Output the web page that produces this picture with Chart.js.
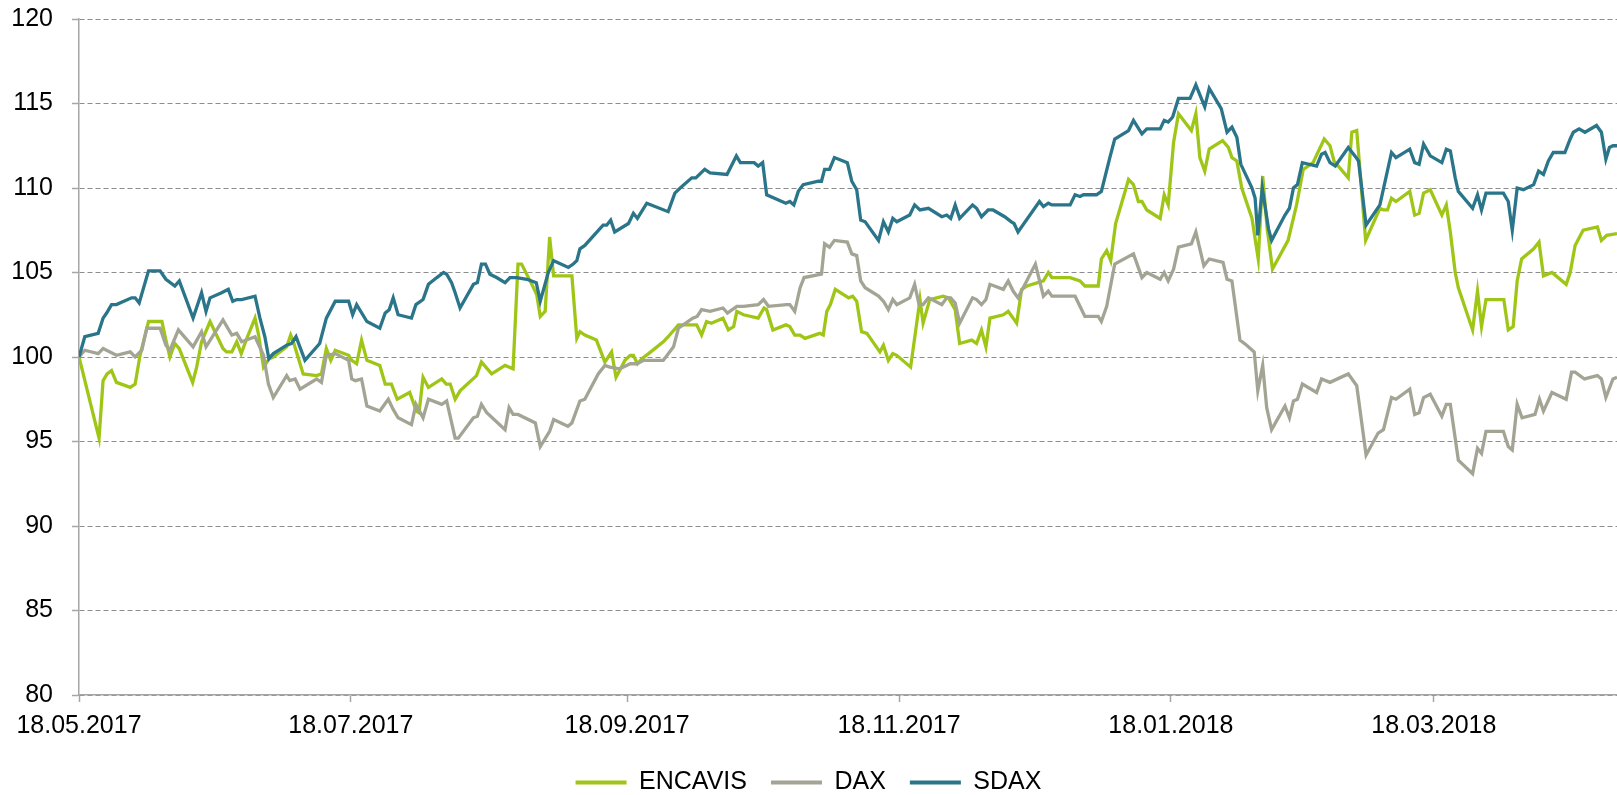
<!DOCTYPE html>
<html>
<head>
<meta charset="utf-8">
<script src="https://cdn.jsdelivr.net/npm/chart.js@4"></script>
<style>
  body { margin: 0; background: #fff; }
  .wrap { position: relative; width: 1617px; height: 795px; }
</style>
</head>
<body>
<div class="wrap"><canvas id="myChart"></canvas></div>
<script>
// x values are days counted from 18.05.2017 (index = 100 on that day)
var tickDays = [0, 61, 123, 184, 245, 304];

var encavisDays = [0,4.5,5.4,6.3,7.3,8.4,11.5,12.6,13.7,15.6,18.6,19.5,20.4,21.5,22.5,25.5,26.4,27.5,29.4,32.3,33.1,34.3,35.4,36.4,37.5,39.5,40.3,41.4,42.7,43.6,46.6,47.5,48.1,49.6,50.3,53.3,54.4,55.5,56.5,57.5,60.5,61.2,62.3,63.4,64.6,67.5,68.7,70.1,71.4,74.2,75.7,76.3,77.2,78.4,81.4,82.4,83.3,84.4,85.5,89.2,90.3,92.6,95.6,97.4,98.5,99.3,101.6,102.7,103.5,104.6,105.6,106.5,110.6,111.7,112.4,113.5,116.1,118.0,119.5,120.5,122.5,123.7,124.4,125.3,126.3,127.8,131.1,132.2,134.5,138.6,139.7,140.8,141.9,144.5,145.7,146.9,147.6,149.1,152.4,153.7,154.3,155.7,158.6,159.5,160.6,161.8,162.9,166.2,167.0,167.8,168.6,169.7,172.7,173.6,174.5,175.6,176.8,179.7,180.5,181.6,182.6,183.5,186.6,188.7,189.4,190.9,193.9,195.1,196.6,197.6,200.3,201.4,202.5,203.5,204.4,207.4,208.5,209.6,210.4,211.5,212.7,216.4,217.5,218.3,222.4,224.6,225.7,228.7,229.4,230.6,231.5,232.6,235.5,236.6,237.7,238.5,239.6,242.6,243.5,244.4,245.6,246.7,249.6,250.6,251.5,252.6,253.6,256.6,257.9,258.7,259.8,260.9,263.2,264.6,265.6,266.6,267.8,271.3,273.2,274.7,276.9,279.4,280.7,281.6,284.8,285.6,286.7,288.7,291.9,292.7,293.6,294.5,295.5,298.6,299.7,300.7,301.7,303.2,305.8,306.8,307.7,308.8,309.5,312.7,313.8,314.7,315.7,319.7,320.7,321.8,322.7,323.7,326.4,327.6,328.6,330.5,333.7,334.6,335.7,337.5,340.7,341.6,342.8,345.1];
var encavisValues = [100,95.2,98.6,99.0,99.2,98.5,98.2,98.4,100.1,102.1,102.1,101.0,100.0,100.8,100.5,98.5,99.4,100.9,102.1,100.5,100.3,100.3,100.9,100.2,101.0,102.3,101.3,99.4,99.9,100.0,100.6,101.3,100.9,99.6,99.0,98.9,99.0,100.5,99.8,100.4,100.1,99.8,99.6,101.0,99.8,99.5,98.4,98.4,97.5,97.9,96.8,96.7,98.8,98.2,98.7,98.4,98.4,97.5,98.0,98.9,99.7,99.0,99.5,99.3,105.5,105.5,104.3,103.7,102.4,102.7,107.1,104.8,104.8,101.1,101.5,101.3,101.0,99.7,100.3,98.8,99.8,100.1,100.1,99.6,99.9,100.2,100.9,101.2,101.9,101.9,101.3,102.1,102.0,102.3,101.6,101.8,102.7,102.5,102.3,102.9,102.8,101.6,101.9,101.8,101.3,101.3,101.1,101.4,101.3,102.7,103.1,104.0,103.5,103.6,103.3,101.5,101.4,100.3,100.7,99.8,100.2,100.1,99.4,103.4,102.0,103.4,103.6,103.5,102.8,100.8,101.0,100.8,101.6,100.6,102.3,102.5,102.7,102.3,102.0,104.0,104.2,104.5,105.0,104.7,104.7,104.5,104.2,104.2,105.8,106.3,105.7,107.9,110.5,110.2,109.2,109.2,108.7,108.2,109.6,109.0,112.7,114.4,113.4,114.4,111.8,111.0,112.3,112.8,112.4,111.8,111.6,110.0,108.2,105.8,110.7,107.6,105.2,106.9,109.0,111.1,111.5,112.9,112.5,111.6,110.6,113.3,113.4,106.9,108.8,108.7,108.7,109.4,109.2,109.8,108.4,108.5,109.7,109.9,108.4,109.0,107.4,105.0,104.1,101.6,103.9,101.8,103.4,103.4,101.6,101.8,104.5,105.8,106.4,106.8,104.8,105.0,104.3,105.0,106.6,107.5,107.7,106.9,107.2,107.3];

var daxDays = [0,1.3,4.3,5.4,8.4,11.5,12.6,14.1,15.2,18.2,19.5,20.4,22.3,25.6,27.5,28.5,32.3,34.3,35.4,36.5,39.5,41.4,42.5,43.6,46.6,47.3,48.5,49.6,53.3,54.4,55.5,57.5,60.5,61.2,62.0,63.4,64.6,67.5,69.4,70.5,71.6,74.6,75.6,77.2,78.4,81.4,82.5,84.4,85.1,88.5,89.4,90.3,91.5,95.6,96.5,97.4,98.5,102.4,103.5,105.6,106.5,109.7,110.6,112.4,113.5,116.5,118.0,119.1,121.3,123.7,125.2,126.7,131.1,133.4,134.5,137.7,138.7,139.7,141.6,144.5,145.5,147.6,149.1,152.4,153.6,154.7,158.8,159.5,160.6,161.8,162.7,166.6,167.3,168.4,169.5,172.4,173.4,174.5,175.4,176.4,179.4,180.5,181.6,182.6,183.5,186.4,187.5,188.5,189.4,190.6,193.6,194.7,195.6,196.6,197.6,200.5,201.4,202.5,203.5,204.4,207.4,208.5,209.6,210.7,214.6,216.4,217.5,218.3,223.5,224.6,225.7,228.7,229.4,230.6,232.4,236.6,238.5,239.6,242.6,243.5,244.4,245.6,246.7,249.6,250.6,251.5,252.4,253.6,256.7,257.6,258.7,260.5,262.0,263.7,264.5,265.6,266.5,267.6,270.6,271.6,272.5,273.4,274.5,277.7,278.8,280.7,284.8,286.7,288.8,291.5,292.7,294.5,295.5,298.6,299.7,300.7,301.7,303.2,305.8,306.8,307.7,309.5,312.7,313.8,314.7,315.7,319.6,320.7,321.6,322.7,323.8,326.7,327.7,328.6,330.5,333.7,334.9,335.7,337.8,340.7,341.6,342.6,344.2,345.1];
var daxValues = [100,100.4,100.2,100.5,100.1,100.3,100.0,100.4,101.7,101.7,100.7,100.4,101.6,100.6,101.5,100.6,102.2,101.3,101.4,100.9,101.2,100.1,98.4,97.6,98.9,98.6,98.7,98.1,98.7,98.5,100.1,100.2,99.8,98.7,98.6,98.7,97.1,96.8,97.5,96.9,96.4,96.0,97.2,96.4,97.5,97.2,97.4,95.2,95.2,96.4,96.5,97.2,96.7,95.7,97.0,96.6,96.6,96.1,94.7,95.6,96.3,95.9,96.1,97.4,97.5,99.0,99.5,99.4,99.3,99.6,99.6,99.8,99.8,100.6,101.7,102.3,102.4,102.8,102.7,102.9,102.6,103.0,103.0,103.1,103.4,103.0,103.1,103.1,102.7,104.1,104.7,104.9,106.7,106.5,106.9,106.8,106.1,106.0,104.5,104.1,103.6,103.3,102.8,103.4,103.1,103.5,104.3,103.1,103.1,103.5,103.1,103.5,103.5,103.2,102.0,103.5,103.4,103.1,103.4,104.3,104.0,104.5,103.9,103.5,105.5,103.6,103.9,103.6,103.6,103.0,102.4,102.4,102.1,103.0,105.5,106.1,104.7,105.0,104.6,105.0,104.5,105.2,106.5,106.7,107.4,106.4,105.4,105.8,105.6,104.6,104.5,101.0,100.7,100.3,98.0,99.5,97.0,95.7,97.1,96.4,97.4,97.5,98.4,97.9,98.7,98.5,99.0,98.3,94.2,95.5,95.7,97.6,97.5,98.1,96.6,96.7,97.6,97.8,96.5,97.2,97.2,93.9,93.1,94.6,94.3,95.6,95.6,94.7,94.5,97.2,96.4,96.6,97.5,96.8,97.9,97.5,99.1,99.1,98.7,98.9,98.7,97.6,98.7,98.8];

var sdaxDays = [0,1.3,4.3,5.4,6.2,7.3,8.4,11.8,12.6,13.5,15.6,18.2,19.5,21.5,22.5,25.6,27.5,28.5,29.4,32.0,33.5,34.5,35.4,36.5,39.5,40.6,41.7,42.6,43.6,46.6,47.7,48.7,50.7,54.0,55.5,57.5,60.5,61.4,62.3,64.6,67.5,68.7,69.6,70.5,71.6,74.6,75.6,77.2,78.4,80.3,81.8,82.5,83.6,84.4,85.5,88.5,89.4,90.3,91.2,92.2,93.7,95.6,96.7,98.2,100.5,102.6,103.5,105.3,106.5,109.8,110.9,111.7,112.4,113.5,117.6,118.4,119.3,120.2,123.3,124.4,125.3,127.4,132.2,133.7,134.9,137.5,138.4,140.4,141.6,145.4,147.5,148.4,151.5,152.4,153.4,154.3,158.6,159.5,160.4,161.4,162.5,165.9,166.6,167.3,168.4,169.5,172.4,173.4,174.5,175.4,176.4,179.4,180.5,181.6,182.6,183.5,186.4,187.5,188.7,190.6,193.6,194.7,195.6,196.6,197.6,200.5,201.4,202.5,204.0,205.1,207.7,209.2,209.8,210.7,215.5,216.4,217.5,218.3,222.4,223.5,224.6,225.4,228.3,229.4,231.3,232.4,235.5,236.6,238.5,239.6,242.6,243.5,244.4,245.4,246.7,249.3,250.6,252.6,253.6,256.3,257.6,258.7,259.8,260.7,263.2,263.9,264.5,265.5,266.9,267.6,270.6,271.6,272.5,273.4,274.5,277.7,278.8,279.6,280.7,281.9,284.8,286.3,287.1,288.8,291.9,294.5,295.5,298.6,299.7,300.7,301.7,303.2,305.8,306.8,307.7,308.8,309.5,312.7,313.8,314.7,315.7,319.6,320.7,321.6,322.7,324.1,326.4,327.5,328.6,329.7,330.8,333.4,334.6,335.3,336.6,337.9,340.5,341.6,342.6,343.4,344.2,345.1];
var sdaxValues = [100,101.2,101.4,102.3,102.6,103.1,103.1,103.5,103.5,103.2,105.1,105.1,104.6,104.2,104.5,102.3,103.8,102.7,103.5,103.8,104.0,103.3,103.4,103.4,103.6,102.3,101.2,99.9,100.2,100.7,100.8,101.2,99.8,100.8,102.3,103.3,103.3,102.5,103.1,102.1,101.7,102.6,102.8,103.5,102.5,102.3,103.1,103.4,104.3,104.7,105.0,104.9,104.4,103.8,102.9,104.3,104.4,105.5,105.5,104.9,104.7,104.4,104.7,104.7,104.6,104.4,103.3,105.0,105.7,105.3,105.5,105.7,106.4,106.6,107.8,107.8,108.1,107.4,107.9,108.5,108.2,109.1,108.6,109.7,110.0,110.6,110.6,111.1,110.9,110.8,111.9,111.5,111.5,111.3,111.5,109.6,109.1,109.2,109.0,109.8,110.2,110.4,110.4,111.1,111.1,111.8,111.5,110.4,109.9,108.1,108.0,106.9,108.0,107.4,108.2,108.0,108.4,109.0,108.7,108.8,108.3,108.4,108.2,109.0,108.2,109.0,108.8,108.3,108.7,108.7,108.3,108.0,107.9,107.4,109.2,108.9,109.1,109.0,109.0,109.6,109.5,109.6,109.6,109.8,111.8,112.9,113.4,114.0,113.2,113.5,113.5,114.0,113.9,114.2,115.3,115.3,116.1,114.8,115.9,114.7,113.3,113.6,113.0,111.4,110.0,109.4,107.2,110.0,107.6,106.9,108.4,108.8,110.0,110.2,111.5,111.3,112.0,112.1,111.5,111.3,112.4,111.9,111.6,107.8,109.0,112.1,111.8,112.3,111.5,111.4,112.6,111.9,111.5,112.3,112.2,110.6,109.8,108.8,109.6,108.7,109.7,109.7,109.2,107.5,110.0,109.9,110.2,111.0,110.8,111.6,112.1,112.1,112.9,113.3,113.5,113.3,113.7,113.3,111.7,112.4,112.5,112.5];

var seriesNames = ['ENCAVIS', 'DAX', 'SDAX'];
var seriesColors = ['#9fc617', '#a3a494', '#2a7589'];

function toPoints(days, values) {
  return days.map(function (d, i) { return { x: d, y: values[i] }; });
}

function formatDay(d) {
  var dt = new Date(Date.UTC(2017, 4, 18) + d * 86400000);
  var dd = String(dt.getUTCDate()).padStart(2, '0');
  var mm = String(dt.getUTCMonth() + 1).padStart(2, '0');
  return dd + '.' + mm + '.' + dt.getUTCFullYear();
}

var allSeries = [
  toPoints(encavisDays, encavisValues),
  toPoints(daxDays, daxValues),
  toPoints(sdaxDays, sdaxValues)
];

var font = { family: '"Liberation Sans", Arial, sans-serif', size: 25 };

var ctx = document.getElementById('myChart').getContext('2d');
var myChart = new Chart(ctx, {
  type: 'line',
  data: {
    datasets: allSeries.map(function (pts, i) {
      return {
        label: seriesNames[i],
        data: pts,
        borderColor: seriesColors[i],
        backgroundColor: seriesColors[i],
        borderWidth: 3.3,
        pointRadius: 0,
        tension: 0,
        fill: false,
        order: 3 - i, // SDAX drawn on top
      };
    })
  },
  options: {
    responsive: true,
    maintainAspectRatio: false,
    animation: false,
    layout: { padding: { top: 19, right: 0, bottom: -10, left: 0 } },
    plugins: {
      tooltip: { enabled: false },
      legend: {
        position: 'bottom',
        labels: {
          font: font,
          color: '#000',
          boxWidth: 51,
          boxHeight: 4,
          padding: 24,
          sort: function (a, b) { return a.datasetIndex - b.datasetIndex; },
          generateLabels: function (chart) {
            var items = Chart.defaults.plugins.legend.labels.generateLabels(chart);
            items.forEach(function (it) { it.lineWidth = 0; it.fillStyle = it.strokeStyle; });
            return items;
          }
        }
      }
    },
    scales: {
      x: {
        type: 'linear',
        min: 0,
        max: 345.1,
        afterBuildTicks: function (scale) {
          scale.ticks = tickDays.map(function (d) { return { value: d }; });
        },
        afterFit: function (scale) { scale.height = 51; },
        ticks: {
          font: font,
          color: '#000',
          padding: 9,
          maxRotation: 0,
          autoSkip: false,
          callback: function (v) { return formatDay(v); }
        },
        grid: { drawOnChartArea: false, drawTicks: true, tickLength: 7, tickColor: '#a6a6a6', tickWidth: 1.5 },
        border: { color: '#a6a6a6', width: 1.5 }
      },
      y: {
        min: 80,
        max: 120,
        afterFit: function (scale) {
          scale.width = 79;
          scale.paddingTop = 0;
          scale.paddingBottom = 0;
        },
        ticks: { stepSize: 5, font: font, color: '#000', padding: 19 },
        grid: { color: '#8c8c8c', lineWidth: 1, tickLength: 7, tickColor: '#a6a6a6', tickWidth: 1.5 },
        border: { color: '#a6a6a6', width: 1.5, dash: [5, 3] }
      }
    }
  }
});
</script>
</body>
</html>
